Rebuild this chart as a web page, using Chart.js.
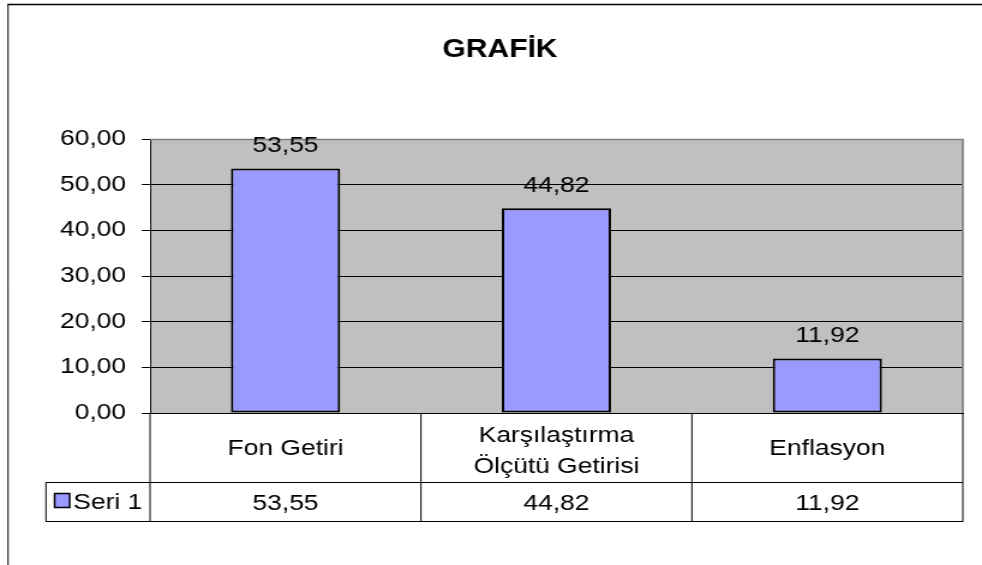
<!DOCTYPE html>
<html>
<head>
<meta charset="utf-8">
<script src="https://cdn.jsdelivr.net/npm/chart.js@4/dist/chart.umd.min.js"></script>
<style>
html,body{margin:0;padding:0;background:#fff;overflow:hidden}
#c{display:block;width:982px !important;height:565px !important}
</style>
</head>
<body>
<canvas id="c" width="818" height="565" style="width:982px;height:565px"></canvas>
<script>
// ---- data ----
const chartTitle = 'GRAFİK';
const categories = [['Fon Getiri'], ['Karşılaştırma', 'Ölçütü Getirisi'], ['Enflasyon']];
const seriesName = 'Seri 1';
const seriesValues = [53.55, 44.82, 11.92];
const yTicks = [0, 10, 20, 30, 40, 50, 60];

// ---- helpers ----
const FONT = '"Liberation Sans", Arial, sans-serif';
const fmt = v => Number(v).toFixed(2).replace('.', ',');
const BAR_FILL = '#9999FF';

const excelPlugin = {
  id: 'excel',
  beforeDraw(chart) {
    const { ctx, chartArea: a } = chart;
    ctx.save();
    ctx.fillStyle = '#fff';
    ctx.fillRect(0, 0, chart.width, chart.height);
    ctx.fillStyle = '#C0C0C0';
    ctx.fillRect(a.left, a.top, a.right - a.left, a.bottom - a.top);
    // outer frame (top + left)
    ctx.strokeStyle = '#000';
    ctx.lineWidth = 1.6;
    ctx.beginPath(); ctx.moveTo(6.2, 4.5); ctx.lineTo(chart.width, 4.5); ctx.stroke();
    ctx.lineWidth = 1;
    ctx.beginPath(); ctx.moveTo(6.7, 4); ctx.lineTo(6.7, chart.height); ctx.stroke();
    // title
    ctx.fillStyle = '#000';
    ctx.font = 'bold 25px ' + FONT;
    ctx.textAlign = 'center';
    ctx.textBaseline = 'middle';
    ctx.fillText(chartTitle, 416.5, 50);
    ctx.restore();
  },
  beforeDatasetsDraw(chart) {
    const { ctx, chartArea: a } = chart;
    ctx.save();
    ctx.strokeStyle = '#808080';
    ctx.lineWidth = 1.7;
    ctx.beginPath();
    ctx.moveTo(a.left, a.top + 0.5);
    ctx.lineTo(a.right, a.top + 0.5);
    ctx.lineTo(a.right, a.bottom);
    ctx.stroke();
    ctx.restore();
  },
  afterDatasetsDraw(chart) {
    const { ctx } = chart;
    const meta = chart.getDatasetMeta(0);
    ctx.save();
    ctx.fillStyle = '#000';
    ctx.font = '22px ' + FONT;
    ctx.textAlign = 'center';
    ctx.textBaseline = 'alphabetic';
    meta.data.forEach((bar, i) => {
      ctx.fillText(fmt(seriesValues[i]), bar.x, bar.y - 16.5);
    });
    ctx.restore();
  },
  afterDraw(chart) {
    const { ctx, chartArea: a } = chart;
    const xs = chart.scales.x;
    const top = a.bottom;
    const r1 = top + 69;
    const r2 = r1 + 39;
    const legLeft = 38.3;
    ctx.save();
    ctx.strokeStyle = '#000';
    ctx.lineWidth = 1;
    // horizontal lines
    ctx.beginPath();
    ctx.moveTo(legLeft, Math.round(r1) + 0.5); ctx.lineTo(a.right, Math.round(r1) + 0.5);
    ctx.moveTo(legLeft, Math.round(r2) + 0.5); ctx.lineTo(a.right, Math.round(r2) + 0.5);
    ctx.stroke();
    // vertical lines
    ctx.beginPath();
    for (let i = 0; i <= categories.length; i++) {
      const x = xs.getPixelForValue(i - 0.5);
      ctx.moveTo(x, top); ctx.lineTo(x, Math.round(r2) + 1);
    }
    ctx.moveTo(legLeft, Math.round(r1)); ctx.lineTo(legLeft, Math.round(r2) + 1);
    ctx.stroke();
    // header texts
    ctx.fillStyle = '#000';
    ctx.font = '22px ' + FONT;
    ctx.textAlign = 'center';
    ctx.textBaseline = 'alphabetic';
    const hc = top + 34.5;
    categories.forEach((lines, i) => {
      const x = xs.getPixelForValue(i);
      const first = lines.length === 1 ? hc + 7 : hc - 6;
      lines.forEach((ln, j) => ctx.fillText(ln, x, first + j * 31));
      ctx.fillText(fmt(seriesValues[i]), x, r1 + 27.5);
    });
    // legend key
    ctx.fillStyle = BAR_FILL;
    ctx.fillRect(45.5, r1 + 11.5, 12.5, 14);
    ctx.lineWidth = 1.5;
    ctx.strokeRect(45.5, r1 + 11.5, 12.5, 14);
    ctx.fillStyle = '#000';
    ctx.textAlign = 'left';
    ctx.fillText(seriesName, 61, r1 + 26.5);
    ctx.restore();
  }
};

new Chart(document.getElementById('c'), {
  type: 'bar',
  data: {
    labels: categories,
    datasets: [{
      label: seriesName,
      data: seriesValues,
      backgroundColor: BAR_FILL,
      borderColor: '#000',
      borderWidth: 2,
      borderSkipped: false,
      barPercentage: 0.403,
      categoryPercentage: 1
    }]
  },
  options: {
    responsive: false,
    animation: false,
    devicePixelRatio: 1,
    layout: { padding: { top: 139, right: 16, left: 0, bottom: 0 } },
    plugins: { legend: { display: false }, tooltip: { enabled: false }, title: { display: false } },
    scales: {
      x: {
        grid: { display: false },
        border: { display: true, color: '#000', width: 1 },
        ticks: { display: false },
        afterFit(s) { s.height = 152; }
      },
      y: {
        min: yTicks[0],
        max: yTicks[yTicks.length - 1],
        afterBuildTicks(s) { s.ticks = yTicks.map(v => ({ value: v })); },
        border: { display: true, color: '#000', width: 1 },
        grid: {
          color: c => (c.tick && c.tick.value === yTicks[yTicks.length - 1]) ? '#808080' : '#000',
          tickColor: '#000',
          tickLength: 7,
          lineWidth: 1
        },
        ticks: {
          color: '#000',
          padding: 13,
          font: { family: FONT, size: 22 },
          callback: v => fmt(v)
        },
        afterFit(s) { s.width = 125; }
      }
    }
  },
  plugins: [excelPlugin]
});
</script>
</body>
</html>
